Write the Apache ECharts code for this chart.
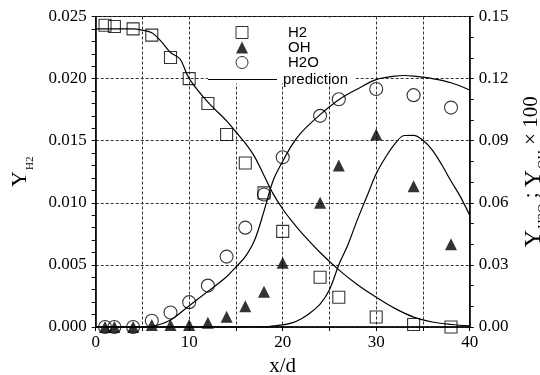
<!DOCTYPE html>
<html>
<head>
<meta charset="utf-8">
<script src="https://cdn.jsdelivr.net/npm/echarts@6/dist/echarts.min.js"></script>
<style>
  html, body { margin: 0; padding: 0; background: #fff; }
  #chart { width: 540px; height: 375px; }
</style>
</head>
<body>
<div id="chart"></div>
<script>
// measured points (x/d)
const EXP_X = [1, 2, 4, 6, 8, 10, 12, 14, 16, 18, 20, 24, 26, 30, 34, 38]
const H2_Y = [0.0243, 0.0242, 0.0240, 0.0235, 0.0217, 0.0200, 0.0180, 0.0155, 0.0132, 0.0108, 0.0077, 0.0040, 0.0024, 0.0008, 0.0002, 0.0000]
const OH_Y = [0, 0, 0, 0.001, 0.001, 0.001, 0.002, 0.005, 0.010, 0.017, 0.031, 0.060, 0.078, 0.093, 0.068, 0.040]
const H2O_Y = [0, 0, 0, 0.003, 0.007, 0.012, 0.020, 0.034, 0.048, 0.064, 0.082, 0.102, 0.110, 0.115, 0.112, 0.106]

// prediction curves
const PRED_H2_X = [0, 2, 4, 5, 6, 7, 8, 9, 10, 12, 14, 15, 16, 17, 18, 19, 20, 21, 22, 24, 26, 28, 30, 32, 34, 36, 38, 40]
const PRED_H2_Y = [0.0240, 0.0240, 0.0240, 0.0239, 0.0237, 0.0230, 0.0221, 0.0216, 0.0200, 0.0181, 0.0166, 0.0157, 0.0148, 0.0137, 0.0122, 0.0107, 0.0095, 0.0085, 0.0076, 0.0060, 0.0046, 0.0034, 0.0024, 0.0015, 0.0008, 0.0004, 0.0002, 0.0001]
const PRED_H2O_X = [0, 2, 4, 5, 6, 8, 10, 12, 14, 15, 16, 17, 18, 19, 20, 21, 22, 24, 26, 28, 30, 32, 33, 34, 36, 38, 40]
const PRED_H2O_Y = [0, 0, 0, 0, 0.0003, 0.0034, 0.0103, 0.0172, 0.0243, 0.029, 0.034, 0.042, 0.056, 0.071, 0.080, 0.088, 0.094, 0.1026, 0.1098, 0.1150, 0.1195, 0.1212, 0.1215, 0.1212, 0.1200, 0.1180, 0.1145]
const PRED_OH_X = [0, 4, 8, 12, 16, 18, 19, 20, 21, 22, 23, 24, 25, 26, 27, 28, 29, 30, 31, 32, 33, 34, 35, 36, 37, 38, 39, 40]
const PRED_OH_Y = [0, 0, 0, 0, 0, 0, 0.0005, 0.001, 0.002, 0.004, 0.007, 0.011, 0.018, 0.030, 0.040, 0.052, 0.063, 0.074, 0.082, 0.0885, 0.0925, 0.0926, 0.0902, 0.0855, 0.0785, 0.0705, 0.063, 0.054]

const X_TICKS = [0, 10, 20, 30, 40]

const pairs = (xs, ys) => xs.map((x, i) => [x, ys[i]])

const serif = 'Liberation Serif'
const sans = 'Liberation Sans'
const gridLine = { show: true, lineStyle: { color: '#333', type: [3, 2], width: 1 } }

const chart = echarts.init(document.getElementById('chart'))

const predLine = (data, axis) => ({
  name: 'prediction',
  type: 'line',
  yAxisIndex: axis,
  data,
  smooth: 0.35,
  symbol: 'none',
  lineStyle: { color: '#000', width: 1.2 },
  itemStyle: { color: '#000' },
  z: 3,
})

chart.setOption({
  animation: false,
  backgroundColor: '#fff',
  grid: {
    left: 95.7, right: 70.3, top: 16.5, bottom: 48,
    outerBoundsMode: 'none',
    show: true, borderColor: '#000', borderWidth: 1, backgroundColor: 'transparent',
  },
  // white patch that hides the grid behind the legend
  graphic: [{
    type: 'rect',
    left: 208, top: 17.5,
    shape: { width: 148, height: 66 },
    style: { fill: '#fff' },
    z: 2,
  }],
  legend: [
    {
      data: [{ name: 'prediction', icon: 'path://M0,0H69V1H0Z' }],
      orient: 'vertical',
      left: 208, top: 72,
      padding: 0,
      itemWidth: 69, itemHeight: 12,
      textStyle: { fontFamily: sans, fontSize: 15, color: '#000', padding: [0, 0, 0, 1] },
      selectedMode: false,
      z: 5,
    },
    {
      data: ['H2', 'OH', 'H2O'],
      orient: 'vertical',
      left: 235.5, top: 25,
      padding: 0,
      itemWidth: 12, itemHeight: 12, itemGap: 0,
      itemStyle: { borderWidth: 1 },
      textStyle: { fontFamily: sans, fontSize: 15, lineHeight: 13, color: '#000', padding: [0, 0, 0, 35] },
      selectedMode: false,
      z: 10,
    },
  ],
  xAxis: {
    type: 'value',
    min: 0, max: 40, interval: 5,
    name: 'x/d',
    nameLocation: 'middle',
    nameGap: 25,
    nameTextStyle: { fontFamily: serif, fontSize: 21, color: '#000' },
    axisLine: { lineStyle: { color: '#000', width: 1.5 } },
    axisTick: { show: true, length: 4, lineStyle: { color: '#000' } },
    axisLabel: {
      margin: 7,
      fontFamily: serif, fontSize: 17, color: '#000',
      formatter: v => (X_TICKS.includes(v) ? String(v) : ''),
    },
    splitLine: gridLine,
  },
  yAxis: [
    {
      type: 'value',
      min: 0, max: 0.025, interval: 0.005,
      name: '{y|Y}{s|H2}',
      nameLocation: 'middle',
      nameRotate: 90,
      nameGap: 62,
      nameTextStyle: {
        rich: {
          y: { fontFamily: serif, fontSize: 22, color: '#000', lineHeight: 24, verticalAlign: 'top' },
          s: { fontFamily: serif, fontSize: 11, color: '#000', lineHeight: 12, padding: [16, 0, 0, 1] },
        },
      },
      axisLine: { show: true, lineStyle: { color: '#000', width: 1.5 } },
      axisTick: { show: true, length: 4, lineStyle: { color: '#000' } },
      minorTick: { show: true, splitNumber: 5, length: 4, lineStyle: { color: '#000' } },
      axisLabel: { margin: 9, fontFamily: serif, fontSize: 17, color: '#000', formatter: v => v.toFixed(3) },
      splitLine: gridLine,
    },
    {
      type: 'value',
      min: 0, max: 0.15, interval: 0.03,
      position: 'right',
      name: '{y|Y}{s|H2O}{n| ; }{y|Y}{s|OH}{n| × 100}',
      nameLocation: 'middle',
      nameRotate: 90,
      nameGap: 51,
      nameTextStyle: {
        rich: {
          y: { fontFamily: serif, fontSize: 24, color: '#000', lineHeight: 26, verticalAlign: 'top' },
          s: { fontFamily: serif, fontSize: 13, color: '#000', lineHeight: 14, padding: [17, 0, 0, 1] },
          n: { fontFamily: serif, fontSize: 21, color: '#000', lineHeight: 26, verticalAlign: 'top' },
        },
      },
      axisLine: { show: true, lineStyle: { color: '#000', width: 1.5 } },
      axisTick: { show: true, length: 4, lineStyle: { color: '#000' } },
      minorTick: { show: true, splitNumber: 3, length: 4, lineStyle: { color: '#000' } },
      axisLabel: { margin: 9, fontFamily: serif, fontSize: 17, color: '#000', formatter: v => v.toFixed(2) },
      splitLine: { show: false },
    },
  ],
  series: [
    predLine(pairs(PRED_H2_X, PRED_H2_Y), 0),
    predLine(pairs(PRED_OH_X, PRED_OH_Y), 1),
    predLine(pairs(PRED_H2O_X, PRED_H2O_Y), 1),
    {
      name: 'H2', type: 'scatter', yAxisIndex: 0,
      data: pairs(EXP_X, H2_Y),
      symbol: 'rect', symbolSize: 12,
      itemStyle: { color: 'rgba(255,255,255,0)', borderColor: '#000', borderWidth: 1.1 },
      z: 4,
    },
    {
      name: 'OH', type: 'scatter', yAxisIndex: 1,
      data: pairs(EXP_X, OH_Y),
      symbol: 'triangle', symbolSize: 12,
      itemStyle: { color: '#000' },
      z: 4,
    },
    {
      name: 'H2O', type: 'scatter', yAxisIndex: 1,
      data: pairs(EXP_X, H2O_Y),
      symbol: 'circle', symbolSize: 13,
      itemStyle: { color: 'rgba(255,255,255,0)', borderColor: '#000', borderWidth: 1.1 },
      z: 4,
    },
  ],
})
</script>
</body>
</html>
